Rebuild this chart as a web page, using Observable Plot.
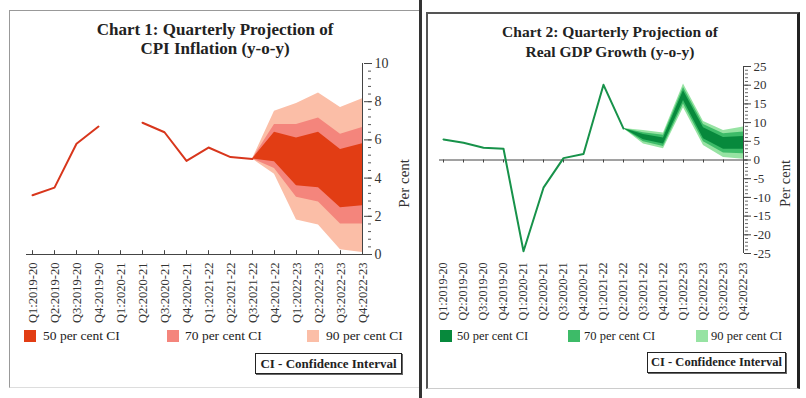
<!DOCTYPE html>
<html>
<head>
<meta charset="utf-8">
<script src="https://cdn.jsdelivr.net/npm/d3@7"></script>
<script src="https://cdn.jsdelivr.net/npm/@observablehq/plot@0.6"></script>
<style>
  body { margin: 0; background: #fff; font-family: "Liberation Serif", serif; }
  #wrap { position: relative; width: 806px; height: 398px; overflow: hidden; background: #fff; }
  .panel { position: absolute; box-sizing: border-box; }
  .title { position: absolute; text-align: center; font-weight: bold; color: #222; white-space: nowrap; }
  .leg { position: absolute; color: #222; white-space: nowrap; }
  .sw { position: absolute; width: 12px; height: 12px; }
  .cibox { position: absolute; box-sizing: border-box; border: 1px solid #222; box-shadow: 1px 1px 0 #666;
           font-weight: bold; color: #222; text-align: center; white-space: nowrap; background: #fff; }
  .chart { position: absolute; top: 0; }
</style>
</head>
<body>
<div id="wrap">
  <!-- panel frames -->
  <div class="panel" style="left:9px;top:10px;width:410px;height:378px;border-left:1px solid #999;border-top:1px solid #999;border-bottom:1px solid #ddd;"></div>
  <div class="panel" style="left:419px;top:0px;width:3px;height:398px;background:#333;"></div>
  <div class="panel" style="left:426px;top:12px;width:374px;height:377px;border-left:2px solid #555;border-top:2px solid #555;border-right:3px solid #222;border-bottom:1px solid #ccc;"></div>

  <div class="title" style="left:15px;top:20px;width:400px;font-size:17px;line-height:19px;">Chart 1: Quarterly Projection of<br>CPI Inflation (y-o-y)</div>
  <div class="title" style="left:430px;top:22px;width:360px;font-size:15.5px;line-height:20px;">Chart 2: Quarterly Projection of<br>Real GDP Growth (y-o-y)</div>

  <div id="left" class="chart" style="left:0px;"></div>
  <div id="right" class="chart" style="left:420px;"></div>

  <div id="legends"></div>
</div>

<script>
// ---------- data ----------
const quarters = ["Q1:2019-20","Q2:2019-20","Q3:2019-20","Q4:2019-20",
                  "Q1:2020-21","Q2:2020-21","Q3:2020-21","Q4:2020-21",
                  "Q1:2021-22","Q2:2021-22","Q3:2021-22","Q4:2021-22",
                  "Q1:2022-23","Q2:2022-23","Q3:2022-23","Q4:2022-23"];

// Chart 1: CPI inflation (actual), null = not available
const cpiActual = [3.1, 3.5, 5.8, 6.7, null, 6.9, 6.4, 4.9, 5.6, 5.1, 5.0, null, null, null, null, null];
// CPI fan chart: Q3:2021-22 .. Q4:2022-23
const cpiFanQuarters = ["Q3:2021-22","Q4:2021-22","Q1:2022-23","Q2:2022-23","Q3:2022-23","Q4:2022-23"];
const cpi50Low  = [5.0, 4.85, 3.6, 3.5, 2.45, 2.55];
const cpi50High = [5.0, 6.4, 6.1, 6.4, 5.5, 5.8];
const cpi70Low  = [5.0, 4.5, 3.0, 2.75, 1.6, 1.6];
const cpi70High = [5.0, 6.8, 6.8, 7.15, 6.3, 6.65];
const cpi90Low  = [5.0, 4.2, 1.8, 1.55, 0.25, 0.1];
const cpi90High = [5.0, 7.5, 7.9, 8.45, 7.7, 8.15];
const cpiTicks = [0, 2, 4, 6, 8, 10];

// Chart 2: real GDP growth (actual)
const gdpActual = [5.5, 4.6, 3.3, 3.0, -24.4, -7.4, 0.5, 1.6, 20.1, 8.4, null, null, null, null, null, null];
// GDP fan chart: Q2:2021-22 .. Q4:2022-23
const gdpFanQuarters = ["Q2:2021-22","Q3:2021-22","Q4:2021-22","Q1:2022-23","Q2:2022-23","Q3:2022-23","Q4:2022-23"];
const gdp50Low  = [8.4, 5.4, 4.3, 15.9, 5.7, 2.9, 2.9];
const gdp50High = [8.4, 6.8, 5.9, 18.5, 8.6, 6.0, 6.3];
const gdp70Low  = [8.4, 4.9, 3.6, 15.0, 4.9, 1.9, 1.7];
const gdp70High = [8.4, 7.3, 6.6, 19.4, 9.5, 7.0, 7.5];
const gdp90Low  = [8.4, 4.3, 3.0, 14.0, 3.9, 0.7, 0.2];
const gdp90High = [8.4, 7.9, 7.2, 20.3, 10.3, 7.9, 8.8];
const gdpTicks = [-25, -20, -15, -10, -5, 0, 5, 10, 15, 20, 25];

const legendLabels = ["50 per cent CI", "70 per cent CI", "90 per cent CI"];
const ciNote = "CI - Confidence Interval";
const yLabel = "Per cent";

// ---------- styles ----------
const cpiColors = {line: "#d8361c", c50: "#e23d14", c70: "#f4857c", c90: "#fbbea7"};
const gdpColors = {line: "#17924a", c50: "#07893c", c70: "#3dbb68", c90: "#97e3a3"};

function fanRows(qs, lo50, hi50, lo70, hi70, lo90, hi90) {
  return qs.map((q, i) => ({q, lo50: lo50[i], hi50: hi50[i], lo70: lo70[i], hi70: hi70[i], lo90: lo90[i], hi90: hi90[i]}));
}

const svgStyle = {fontFamily: "'Liberation Serif', serif", fontSize: "12px", color: "#333", background: "transparent", overflow: "visible"};

// ---------- Chart 1 ----------
const cpiFan = fanRows(cpiFanQuarters, cpi50Low, cpi50High, cpi70Low, cpi70High, cpi90Low, cpi90High);
const cpiLine = quarters.map((q, i) => ({q, v: cpiActual[i]}));
const cpiMinor = d3.range(0, 10.001, 0.4);

const left = Plot.plot({
  width: 420, height: 330,
  marginLeft: 26, marginRight: 53, marginTop: 63, marginBottom: 76,
  style: svgStyle,
  x: {type: "point", domain: quarters, padding: 0, align: 0.5},
  y: {domain: [0, 10]},
  marks: [
    Plot.areaY(cpiFan, {x: "q", y1: "lo90", y2: "hi90", fill: cpiColors.c90}),
    Plot.areaY(cpiFan, {x: "q", y1: "lo70", y2: "hi70", fill: cpiColors.c70}),
    Plot.areaY(cpiFan, {x: "q", y1: "lo50", y2: "hi50", fill: cpiColors.c50}),
    Plot.ruleY([0], {stroke: "#444", strokeWidth: 1}),
    Plot.ruleX(quarters, {x: d => d, y1: 0, y2: 0.2, stroke: "#444"}),
    Plot.ruleX([quarters[quarters.length - 1]], {stroke: "#444"}),
    Plot.axisY(cpiMinor, {anchor: "right", tickSize: 3, tickFormat: () => "", label: null, stroke: "#555"}),
    Plot.axisY(cpiTicks, {anchor: "right", tickSize: 4, dx: -4, tickFormat: () => "", label: null, stroke: "#444"}),
    Plot.axisY(cpiTicks, {anchor: "right", tickSize: 4, tickPadding: 3, tickFormat: d => String(d), label: null, fontSize: 14, stroke: "#444"}),
    Plot.axisX({anchor: "bottom", tickSize: 0, tickPadding: 8, tickRotate: -90, label: null, fontSize: 12.5}),
    Plot.line(cpiLine, {x: "q", y: "v", stroke: cpiColors.line, strokeWidth: 2}),
    Plot.text([yLabel], {frameAnchor: "right", rotate: -90, dx: 37, fontSize: 15, fill: "#333"})
  ]
});
document.getElementById("left").appendChild(left);

// ---------- Chart 2 ----------
const gdpFan = fanRows(gdpFanQuarters, gdp50Low, gdp50High, gdp70Low, gdp70High, gdp90Low, gdp90High);
const gdpLine = quarters.map((q, i) => ({q, v: gdpActual[i]}));
const gdpMinor = d3.range(-25, 25.001, 1);

const right = Plot.plot({
  width: 380, height: 330,
  marginLeft: 19, marginRight: 53, marginTop: 66, marginBottom: 77,
  style: svgStyle,
  x: {type: "point", domain: quarters, padding: 0, align: 0.5},
  y: {domain: [-25, 25]},
  marks: [
    Plot.areaY(gdpFan, {x: "q", y1: "lo90", y2: "hi90", fill: gdpColors.c90}),
    Plot.areaY(gdpFan, {x: "q", y1: "lo70", y2: "hi70", fill: gdpColors.c70}),
    Plot.areaY(gdpFan, {x: "q", y1: "lo50", y2: "hi50", fill: gdpColors.c50}),
    Plot.ruleY([0], {stroke: "#444", strokeWidth: 1}),
    Plot.ruleX(quarters, {x: d => d, y1: 0, y2: -0.8, stroke: "#444"}),
    Plot.ruleX([quarters[quarters.length - 1]], {stroke: "#444"}),
    Plot.axisY(gdpMinor, {anchor: "right", tickSize: 3, dx: -3, tickFormat: () => "", label: null, stroke: "#666"}),
    Plot.axisY(gdpTicks, {anchor: "right", tickSize: 4, dx: -4, tickFormat: () => "", label: null, stroke: "#444"}),
    Plot.axisY(gdpTicks, {anchor: "right", tickSize: 3, tickPadding: 3, tickFormat: d => String(d), label: null, fontSize: 13, stroke: "#444"}),
    Plot.axisX({anchor: "bottom", tickSize: 0, tickPadding: 9, tickRotate: -90, label: null, fontSize: 12}),
    Plot.line(gdpLine, {x: "q", y: "v", stroke: gdpColors.line, strokeWidth: 2}),
    Plot.text([yLabel], {frameAnchor: "right", rotate: -90, dx: 38, fontSize: 14.5, fill: "#333"})
  ]
});
document.getElementById("right").appendChild(right);

// ---------- legends ----------
const legendBox = document.getElementById("legends");
function addLegend(colors, swX, txtX, y, fontSize) {
  const fills = [colors.c50, colors.c70, colors.c90];
  legendLabels.forEach((lab, i) => {
    const sw = document.createElement("div");
    sw.className = "sw";
    sw.style.left = swX[i] + "px"; sw.style.top = y + "px"; sw.style.background = fills[i];
    legendBox.appendChild(sw);
    const t = document.createElement("div");
    t.className = "leg";
    t.style.left = txtX[i] + "px"; t.style.top = (y - 2) + "px";
    t.style.fontSize = fontSize + "px"; t.style.lineHeight = "16px";
    t.textContent = lab;
    legendBox.appendChild(t);
  });
}
addLegend(cpiColors, [24, 167, 307], [43, 185, 326], 330, 13.5);
addLegend(gdpColors, [440, 568, 696], [457, 584, 711], 330, 12.5);

function addNote(x, y, w, h, fs) {
  const b = document.createElement("div");
  b.className = "cibox";
  b.style.left = x + "px"; b.style.top = y + "px"; b.style.width = w + "px"; b.style.height = h + "px";
  b.style.fontSize = fs + "px"; b.style.lineHeight = (h - 2) + "px";
  b.textContent = ciNote;
  legendBox.appendChild(b);
}
addNote(255, 353, 147, 21, 13);
addNote(647, 352, 139, 21, 12.5);
</script>
</body>
</html>
